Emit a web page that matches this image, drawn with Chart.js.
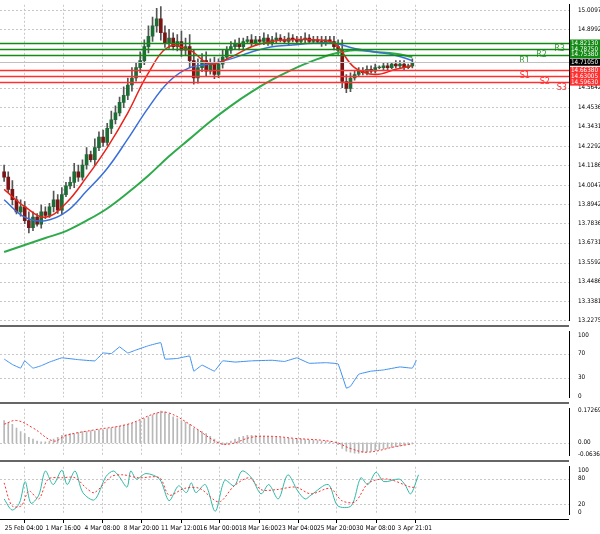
<!DOCTYPE html>
<html><head><meta charset="utf-8">
<script src="https://cdn.jsdelivr.net/npm/chart.js@4"></script>
<style>
body{margin:0;background:#fff;width:600px;height:534px;overflow:hidden;position:relative;font-family:"DejaVu Sans",sans-serif}
canvas{position:absolute;left:0}
.sep{position:absolute;left:0;width:569px;height:2px;background:#666}
#xl{position:absolute;left:0;top:520px;width:600px;height:14px}
</style></head><body>
<canvas id="c1" style="top:0"></canvas>
<div class="sep" style="top:325px"></div>
<canvas id="c2" style="top:327px"></canvas>
<div class="sep" style="top:402px"></div>
<canvas id="c3" style="top:404px"></canvas>
<div class="sep" style="top:460px"></div>
<canvas id="c4" style="top:462px"></canvas>
<div class="sep" style="top:519px;height:1px;background:#000"></div>
<script>
const closes=[14.05,13.98,13.92,13.85,13.88,13.80,13.76,13.82,13.78,13.85,13.83,13.88,13.92,13.86,13.95,14.00,14.02,14.08,14.05,14.12,14.18,14.15,14.22,14.28,14.25,14.33,14.38,14.42,14.48,14.52,14.58,14.62,14.68,14.72,14.80,14.86,14.92,14.96,14.88,14.82,14.85,14.80,14.83,14.78,14.80,14.72,14.62,14.68,14.72,14.66,14.70,14.64,14.70,14.74,14.78,14.80,14.82,14.80,14.83,14.84,14.82,14.84,14.83,14.85,14.82,14.84,14.85,14.84,14.83,14.85,14.84,14.83,14.84,14.85,14.83,14.84,14.83,14.82,14.84,14.83,14.80,14.78,14.60,14.56,14.62,14.64,14.66,14.65,14.67,14.66,14.68,14.68,14.69,14.68,14.70,14.69,14.70,14.68,14.69,14.71];
const wicks=[.04,.03,.05,.02,.04,.03,.05,.03,.02,.04,.03,.02,.05,.03,.04,.02,.03,.05,.04,.03,.04,.02,.05,.03,.04,.03,.05,.04,.03,.05,.04,.06,.03,.05,.04,.06,.05,.06,.07,.04,.05,.03,.04,.06,.05,.07,.06,.05,.04,.05,.03,.04,.03,.04,.02,.03,.02,.03,.02,.02,.03,.02,.02,.03,.02,.02,.03,.02,.02,.03,.02,.02,.02,.03,.02,.02,.02,.03,.02,.02,.03,.04,.06,.04,.03,.02,.02,.02,.02,.02,.02,.01,.02,.02,.01,.02,.02,.02,.01,.02];
const maIdx=[0,5,10,15,20,25,30,35,40,45,50,55,60,65,70,75,80,85,90,95,99];
const maFast=[13.98,13.88,13.82,13.90,14.05,14.22,14.42,14.65,14.80,14.78,14.70,14.74,14.80,14.83,14.84,14.84,14.82,14.68,14.64,14.67,14.69];
const maMid=[13.92,13.82,13.80,13.85,13.97,14.10,14.27,14.45,14.60,14.68,14.70,14.73,14.77,14.80,14.81,14.82,14.82,14.79,14.77,14.75,14.72];
const maSlow=[13.62,13.66,13.70,13.74,13.80,13.87,13.96,14.06,14.17,14.27,14.37,14.46,14.54,14.61,14.67,14.72,14.76,14.78,14.77,14.76,14.74];
const priceTicks=[15.00975,14.89920,14.56420,14.45365,14.34310,14.22920,14.11865,14.00475,13.89420,13.78365,13.67310,13.55920,13.44865,13.33810,13.22755];
const levelNames=["R3","R2","R1","S1","S2","S3"];
const levelValues=[14.82130,14.78750,14.75380,14.66380,14.63005,14.59630];
const lastPrice=14.71050;
const rsiIdx=[0,2,4,5,7,9,11,14,18,22,24,26,28,30,32,35,38,39,42,45,46,48,51,53,56,60,65,68,71,74,78,81,83,84,86,89,92,96,99,100];
const rsiVal=[61,52,46,58,46,50,56,63,60,58,71,70,81,71,76,83,88,61,62,66,41,51,41,58,56,58,59,57,63,54,55,53,13,16,36,41,43,48,46,59];
const macdHist=[.12,.11,.10,.08,.06,.05,.03,.02,.01,.005,.005,.01,.02,.03,.04,.045,.05,.05,.055,.06,.06,.065,.065,.07,.07,.075,.08,.085,.09,.095,.10,.105,.11,.12,.13,.14,.15,.16,.17,.165,.155,.14,.13,.12,.11,.10,.08,.07,.06,.05,.035,.02,.005,-.01,-.005,.01,.02,.03,.035,.04,.04,.04,.038,.035,.035,.03,.03,.028,.025,.025,.022,.02,.02,.018,.015,.015,.012,.01,.01,.005,0,-.01,-.03,-.045,-.05,-.055,-.055,-.05,-.048,-.045,-.04,-.036,-.032,-.028,-.024,-.02,-.016,-.012,-.008,-.005];
const sigIdx=[0,3,7,12,15,22,30,37,40,45,52,55,60,65,70,80,84,88,95,99];
const sigVal=[.10,.12,.08,.01,.04,.07,.10,.16,.16,.10,0,-.005,.03,.035,.025,.005,-.03,-.05,-.02,-.005];
const stIdx=[0,1.9,3.7,5.1,6.5,8.4,10,11.9,14,15.3,17.2,19.1,21.9,24.7,26.5,27.9,29.8,30.7,32.1,34.4,37.7,40,42.3,44.2,45.4,46.5,48.8,51.2,53.5,55.8,57.7,60,62.3,64.2,66.5,68.8,71.2,73,74.4,78.6,80.9,84.2,86.5,88.2,90.2,92.1,95.8,97.2,98.6,100.5];
const stVal=[32,6,22,73,22,41,98,66,100,66,98,47,30,85,98,85,60,98,79,92,79,28,63,47,70,47,66,3,76,63,98,82,44,66,32,89,51,32,41,66,16,16,82,66,95,73,79,66,44,89];
const stSigIdx=[0,1.9,4.2,6,8.4,10.7,14,17.2,20,21.9,26,28.8,32.6,37.7,40,43.7,47.4,52.1,55.8,59.5,62.3,66,70.7,74.4,79.1,81.9,85.1,88.4,93,98.6,100];
const stSigVal=[70,16,16,51,32,79,82,82,57,47,85,89,82,82,41,57,57,25,63,82,54,54,60,44,57,28,25,70,79,60,60];
const xLabels=["25 Feb 04:00","1 Mar 16:00","4 Mar 08:00","8 Mar 20:00","11 Mar 12:00","16 Mar 00:00","18 Mar 16:00","23 Mar 04:00","25 Mar 20:00","30 Mar 08:00","3 Apr 21:01"];
const xLabelIdx=[4.8,14.3,23.8,33.3,42.8,52.2,61.7,71.2,80.6,90.1,99.6];

const XMIN=-1,XMAX=137;
const FONT='"DejaVu Sans Condensed","DejaVu Sans",sans-serif';
const AXW=31;
const pts=(ix,v)=>ix.map((x,i)=>({x,y:v[i]}));
const opens=closes.map((c,i)=>i?closes[i-1]:14.08);
function grid(chart,hTicks){
  const {ctx,chartArea:a,scales:{x,y}}=chart;
  ctx.save();ctx.strokeStyle='#c8c8c8';ctx.lineWidth=1;ctx.setLineDash([2,2]);
  xLabelIdx.forEach(v=>{const px=Math.round(x.getPixelForValue(v))+.5;ctx.beginPath();ctx.moveTo(px,a.top);ctx.lineTo(px,a.bottom);ctx.stroke();});
  hTicks.forEach(v=>{const py=Math.round(y.getPixelForValue(v))+.5;ctx.beginPath();ctx.moveTo(a.left,py);ctx.lineTo(a.right,py);ctx.stroke();});
  ctx.restore();
}
function baseOpts(min,max,ticks,fmt,hGrid){
  return {responsive:false,animation:false,events:[],
    layout:{padding:0},
    plugins:{legend:{display:false},tooltip:{enabled:false},gridp:{h:hGrid}},
    scales:{
      x:{type:'linear',min:XMIN,max:XMAX,display:false,offset:false},
      y:{position:'right',min,max,grid:{display:false},border:{color:'#000',width:1},
        afterFit:s=>{s.width=AXW},
        afterBuildTicks:s=>{s.ticks=ticks.map(v=>({value:v}))},
        ticks:{autoSkip:false,padding:1,font:{size:6.3,family:FONT},color:'#000',callback:fmt}}
    }};
}
const gridPlugin={id:'gridp',beforeDatasetsDraw(c,args,o){grid(c,o.h||[])}};
function mk(id,h,type,datasets,opts,plugins){
  const el=document.getElementById(id);el.width=600;el.height=h;
  return new Chart(el,{type,data:{datasets},options:opts,plugins:[gridPlugin].concat(plugins||[])});
}
const levelPlugin={id:'levels',afterDatasetsDraw(c){
  const {ctx,chartArea:a,scales:{y}}=c;ctx.save();ctx.font='9px '+FONT;
  const textX=[565,547,530,530,550,567];
  levelValues.forEach((v,i)=>{const py=Math.round(y.getPixelForValue(v))+.5;const res=i<3;
    ctx.strokeStyle=res?'#138a13':'#ff3030';ctx.lineWidth=1.5;ctx.beginPath();ctx.moveTo(a.left,py);ctx.lineTo(a.right,py);ctx.stroke();
    ctx.fillStyle=res?'#3a9a3a':'#ff3030';ctx.textAlign='right';ctx.textBaseline='top';ctx.fillText(levelNames[i],textX[i],py+1);
  });
  const lp=Math.round(y.getPixelForValue(lastPrice))+.5;ctx.strokeStyle='#c0c0c0';ctx.lineWidth=1;ctx.beginPath();ctx.moveTo(a.left,lp);ctx.lineTo(a.right,lp);ctx.stroke();
  ctx.restore();
},afterDraw(c){
  const {ctx,chartArea:a,scales:{y}}=c;ctx.save();ctx.font='6.3px '+FONT;ctx.textBaseline='middle';ctx.textAlign='left';
  const box=(v,bg,fg)=>{const py=y.getPixelForValue(v);ctx.fillStyle=bg;ctx.fillRect(a.right+1,py-3.5,AXW-1,7);ctx.fillStyle=fg;ctx.fillText(v.toFixed(5),a.right+2,py);};
  levelValues.forEach((v,i)=>box(v,i<3?'#138a13':'#ff3030','#fff'));
  box(lastPrice,'#000','#fff');ctx.restore();
}};
const wickData=closes.map((c,i)=>({x:i,y:[Math.min(c,opens[i])-wicks[i]*0.6,Math.max(c,opens[i])+wicks[i]]}));
const bodyData=closes.map((c,i)=>({x:i,y:[opens[i],c===opens[i]?c+.003:c]}));
const line=(d,col,w,t)=>({type:'line',data:d,borderColor:col,borderWidth:w||1.5,pointRadius:0,tension:t===undefined?.4:t,spanGaps:true});
mk('c1',325,'bar',[
  line(pts(maIdx,maFast),'#e8231a',1.5),
  line(pts(maIdx,maMid),'#3b6fd8',1.5),
  line(pts(maIdx,maSlow),'#2faa4a',2),
  {type:'bar',data:bodyData,grouped:false,barThickness:3,backgroundColor:closes.map((c,i)=>c>=opens[i]?'#1d6b35':'#7a1515'),borderWidth:0},
  {type:'bar',data:wickData,grouped:false,barThickness:1,backgroundColor:'#555'},
],baseOpts(13.2275,15.041,priceTicks,v=>v.toFixed(5),priceTicks),[levelPlugin]);
mk('c2',75,'line',[line(pts(rsiIdx,rsiVal),'#3d8ff0',1,0.05)],baseOpts(-2,106,[100,70,30,0],v=>String(v),[70,30]));
mk('c3',56,'bar',[
  {type:'line',data:pts(sigIdx,sigVal),borderColor:'#ff3030',borderWidth:1,borderDash:[2,2],pointRadius:0,tension:.4},
  {type:'bar',data:macdHist.map((v,i)=>({x:i,y:v})),grouped:false,barThickness:1,backgroundColor:'#b8b8b8'},
],baseOpts(-0.0663,0.1829,[0.172695,0,-0.063611],v=>v===0?'0.00':String(v),[0]));
mk('c4',57,'line',[
  {type:'line',data:pts(stSigIdx,stSigVal),borderColor:'#ff3030',borderWidth:1,borderDash:[2,2],pointRadius:0,tension:.3},
  line(pts(stIdx,stVal),'#30b8a8',1,0.3),
],baseOpts(-4,108,[100,80,20,0],v=>String(v),[80,20]));
const xc=document.createElement('canvas');xc.id='xl';xc.width=600;xc.height=14;document.body.appendChild(xc);
const xctx=xc.getContext('2d');xctx.font='6.5px '+FONT;xctx.fillStyle='#000';xctx.textAlign='center';xctx.textBaseline='middle';
const pxPer=(600-AXW)/(XMAX-XMIN);
xLabels.forEach((t,i)=>{const px=(xLabelIdx[i]-XMIN)*pxPer;xctx.fillRect(Math.round(px),0,1,3);xctx.fillText(t,px,8);});
</script></body></html>
